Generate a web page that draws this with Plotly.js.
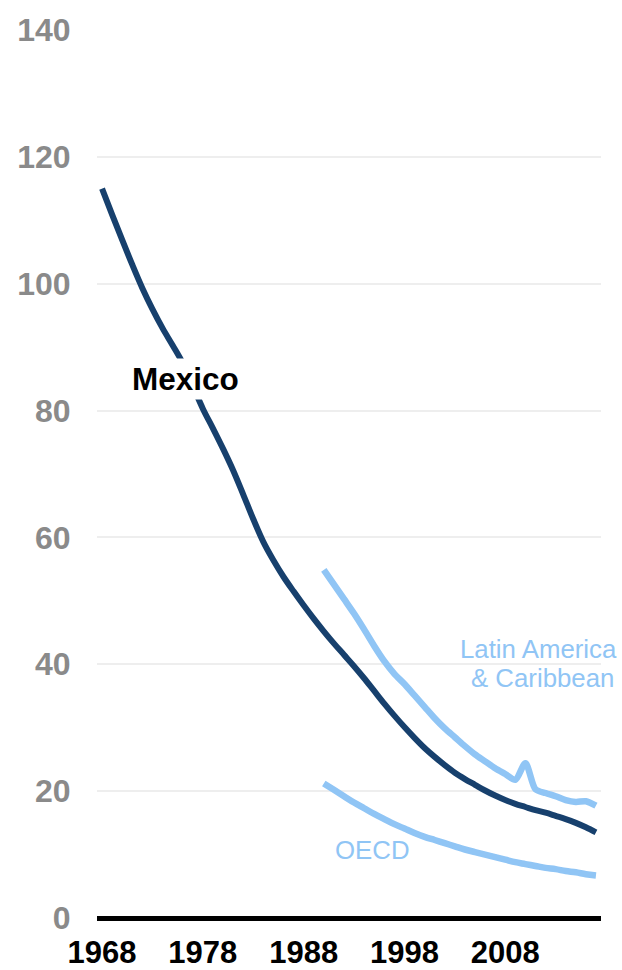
<!DOCTYPE html>
<html>
<head>
<meta charset="utf-8">
<script src="https://cdn.plot.ly/plotly-3.0.1.min.js"></script>
<style>html,body{margin:0;padding:0;background:#fff;}#chart{width:622px;height:970px;}</style>
</head>
<body>
<div id="chart"></div>
<script>
const mexicoYears = [1968,1969,1970,1971,1972,1973,1974,1975,1976,1977,1978,1979,1980,1981,1982,1983,1984,1985,1986,1987,1988,1989,1990,1991,1992,1993,1994,1995,1996,1997,1998,1999,2000,2001,2002,2003,2004,2005,2006,2007,2008,2009,2010,2011,2012,2013,2014,2015,2016,2017];
const mexicoValues = [115.0,110.9,106.9,103.0,99.3,96.0,93.0,90.3,87.5,83.9,80.3,77.2,74.0,70.6,66.8,62.9,59.3,56.4,53.8,51.5,49.3,47.2,45.2,43.3,41.5,39.7,37.8,35.8,33.8,31.9,30.1,28.4,26.8,25.4,24.1,22.9,21.9,21.0,20.1,19.3,18.6,18.0,17.5,17.0,16.6,16.1,15.6,15.0,14.3,13.5];
const regionYears = [1990,1991,1992,1993,1994,1995,1996,1997,1998,1999,2000,2001,2002,2003,2004,2005,2006,2007,2008,2009,2010,2011,2012,2013,2014,2015,2016,2017];
const lacValues = [54.9,52.6,50.3,48.0,45.5,42.9,40.5,38.5,36.9,35.1,33.3,31.5,29.9,28.5,27.1,25.8,24.7,23.6,22.7,21.8,24.4,20.3,19.7,19.2,18.6,18.3,18.4,17.7];
const oecdValues = [21.2,20.2,19.2,18.2,17.3,16.4,15.6,14.8,14.1,13.4,12.8,12.3,11.8,11.3,10.8,10.4,10.0,9.6,9.2,8.8,8.5,8.2,7.9,7.7,7.4,7.2,6.9,6.7];
const xTicks = [1968,1978,1988,1998,2008];
const yTicks = [0,20,40,60,80,100,120,140];

const navy = '#17406d';
const light = '#90c5f5';
const FONT = 'Liberation Sans, Arial, sans-serif';

const traces = [
  {x: regionYears, y: oecdValues, type:'scatter', mode:'lines', line:{color: light, width:6.5, shape:'spline', smoothing:1}, hoverinfo:'skip'},
  {x: regionYears, y: lacValues, type:'scatter', mode:'lines', line:{color: light, width:6.5, shape:'spline', smoothing:0.8}, hoverinfo:'skip'},
  {x: mexicoYears, y: mexicoValues, type:'scatter', mode:'lines', line:{color: navy, width:6, shape:'spline', smoothing:1}, hoverinfo:'skip'}
];

const layout = {
  width: 622, height: 970,
  margin: {l:97, r:21, t:30, b:52, pad:0},
  paper_bgcolor:'#ffffff', plot_bgcolor:'#ffffff',
  showlegend:false,
  font:{family: FONT},
  xaxis: {
    range:[1967.5, 2017.5], tickvals:xTicks, ticktext:xTicks.map(String),
    showgrid:false, zeroline:false, showline:false,
    ticks:'outside', ticklen:7, tickcolor:'rgba(0,0,0,0)',
    tickfont:{family:FONT, size:31, color:'#000000', weight:'bold'}
  },
  yaxis: {
    range:[0,140], tickvals:yTicks, ticktext:yTicks.map(String),
    showgrid:true, gridcolor:'#eeeeee', gridwidth:2,
    zeroline:true, zerolinecolor:'#000000', zerolinewidth:5,
    showline:false,
    ticks:'outside', ticklen:19, tickcolor:'rgba(0,0,0,0)',
    tickfont:{family:FONT, size:32, color:'#8a8a8a', weight:'bold'}
  },
  annotations: [
    {x:1976.3, y:85.0, xref:'x', yref:'y', text:'<b>Mexico</b>', showarrow:false, bgcolor:'#ffffff', borderpad:2,
     font:{family:FONT, size:31.5, color:'#000000'}},
    {x:2011.3, y:42.4, xref:'x', yref:'y', text:'Latin America', showarrow:false,
     font:{family:FONT, size:25.8, color:light}},
    {x:2011.65, y:37.8, xref:'x', yref:'y', text:'&amp; Caribbean', showarrow:false,
     font:{family:FONT, size:25.8, color:light}},
    {x:1994.8, y:10.7, xref:'x', yref:'y', text:'OECD', showarrow:false,
     font:{family:FONT, size:25.8, color:light}}
  ]
};

Plotly.newPlot('chart', traces, layout, {staticPlot:true, displayModeBar:false});
</script>
</body>
</html>
